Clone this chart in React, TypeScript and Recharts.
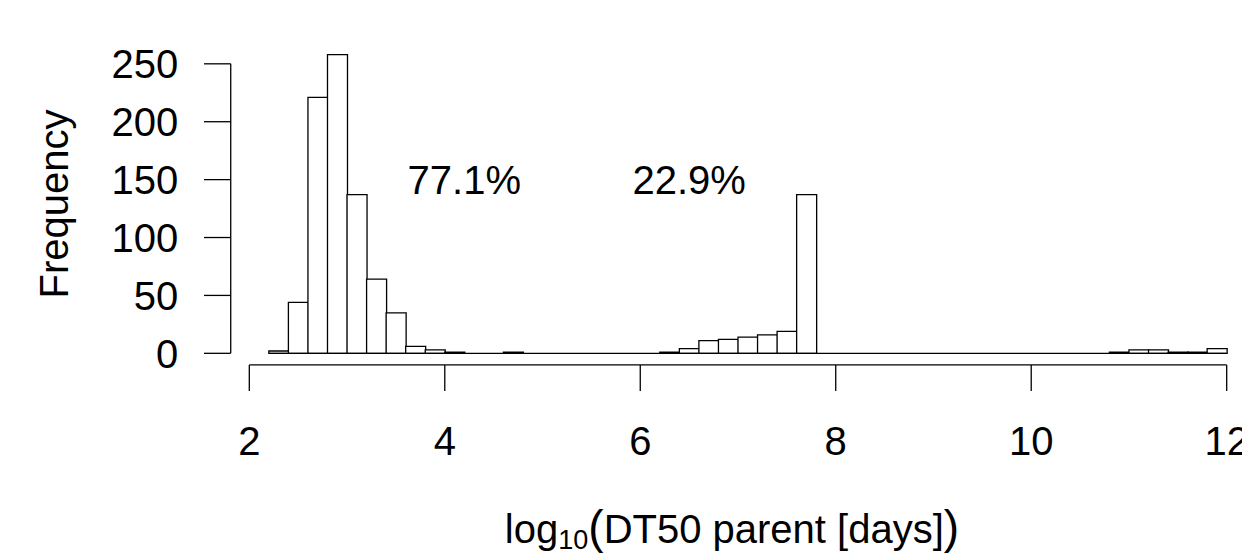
import {
  ComposedChart,
  Bar,
  XAxis,
  YAxis,
  ReferenceLine,
  ReferenceDot,
} from "recharts";

const FONT = '"Liberation Sans", Arial, Helvetica, sans-serif';

// histogram bins (left edge, width 0.2)
const binStarts = [
  "2.2", "2.4", "2.6", "2.8", "3.0", "3.2", "3.4", "3.6", "3.8", "4.0",
  "4.2", "4.4", "4.6", "4.8", "5.0", "5.2", "5.4", "5.6", "5.8", "6.0",
  "6.2", "6.4", "6.6", "6.8", "7.0", "7.2", "7.4", "7.6", "7.8", "8.0",
  "8.2", "8.4", "8.6", "8.8", "9.0", "9.2", "9.4", "9.6", "9.8", "10.0",
  "10.2", "10.4", "10.6", "10.8", "11.0", "11.2", "11.4", "11.6", "11.8",
];

const counts = [
  2, 44, 221, 258, 137, 64, 35, 6, 3, 1,
  0, 0, 1, 0, 0, 0, 0, 0, 0, 0,
  1, 4, 11, 12, 14, 16, 19, 137, 0, 0,
  0, 0, 0, 0, 0, 0, 0, 0, 0, 0,
  0, 0, 0, 1, 3, 3, 1, 1, 4,
];

const xTicks = [2, 4, 6, 8, 10, 12];
const yTicks = [0, 50, 100, 150, 200, 250];

const shareLabels = [
  { x: 4.2, y: 150, text: "77.1%" },
  { x: 6.5, y: 150, text: "22.9%" },
];

const histLow = 2.2;
const histHigh = 12;
const yAxisLineX = 1.81;

const data = binStarts.map((bin, i) => ({
  bin,
  start: parseFloat(bin),
  count: counts[i],
}));

function YTick({ x, y, payload }: any) {
  return (
    <g>
      <line x1={x + 25.7} x2={x + 52.4} y1={y} y2={y} stroke="#000" strokeWidth={1.3} />
      <text
        x={x}
        y={y}
        dy="0.355em"
        textAnchor="end"
        fontSize={40}
        fontFamily={FONT}
        fill="#000"
      >
        {payload.value}
      </text>
    </g>
  );
}

function XTitle() {
  return (
    <text x={732} y={543} textAnchor="middle" fontSize={40} fontFamily={FONT} fill="#000">
      <tspan>log</tspan>
      <tspan fontSize={27} dy={6}>10</tspan>
      <tspan fontSize={46} dy={-6}>(</tspan>
      <tspan>DT50 parent [days]</tspan>
      <tspan fontSize={46}>)</tspan>
    </text>
  );
}

function YTitle() {
  return (
    <text
      x={54}
      y={204}
      dy="0.355em"
      transform="rotate(-90 54 204)"
      textAnchor="middle"
      fontSize={40}
      fontFamily={FONT}
      fill="#000"
    >
      Frequency
    </text>
  );
}

export default function App() {
  return (
    <div
      style={{
        position: "absolute",
        left: 0,
        top: 0,
        width: 1242,
        height: 559,
        background: "#fff",
        fontFamily: FONT,
      }}
    >
      <ComposedChart
        width={1242}
        height={559}
        data={data}
        barCategoryGap={0}
        barGap={0}
        margin={{ top: 40.66, right: 15.3, bottom: 44.1, left: 49.3 }}
      >
        <XAxis
          xAxisId="bins"
          dataKey="bin"
          type="category"
          hide
          height={0}
          padding={{ left: 19.548, right: 0 }}
        />
        <XAxis
          xAxisId="num"
          dataKey="start"
          type="number"
          domain={[2, 12]}
          allowDataOverflow
          ticks={xTicks}
          interval={0}
          height={150}
          tickSize={26}
          tickMargin={36}
          axisLine={{ stroke: "#000", strokeWidth: 1.3 }}
          tickLine={{ stroke: "#000", strokeWidth: 1.3 }}
          tick={{ fontSize: 40, fill: "#000", fontFamily: FONT }}
          label={<XTitle />}
        />
        <YAxis
          type="number"
          domain={[-10, 270]}
          ticks={yTicks}
          interval={0}
          width={200}
          tickSize={0}
          tickMargin={71}
          axisLine={false}
          tickLine={false}
          tick={<YTick />}
          label={<YTitle />}
        />
        <ReferenceLine
          xAxisId="num"
          segment={[
            { x: yAxisLineX, y: 0 },
            { x: yAxisLineX, y: 250 },
          ]}
          stroke="#000"
          strokeWidth={1.3}
          ifOverflow="visible"
        />
        <ReferenceLine
          xAxisId="num"
          segment={[
            { x: histLow, y: 0 },
            { x: histHigh, y: 0 },
          ]}
          stroke="#000"
          strokeWidth={1.3}
          ifOverflow="visible"
        />
        <Bar
          xAxisId="bins"
          dataKey="count"
          fill="#fff"
          stroke="#000"
          strokeWidth={1.3}
          isAnimationActive={false}
        />
        {shareLabels.map((s) => (
          <ReferenceDot
            key={s.text}
            xAxisId="num"
            x={s.x}
            y={s.y}
            r={0}
            fill="none"
            stroke="none"
            ifOverflow="visible"
            label={{
              value: s.text,
              position: "center",
              fontSize: 40,
              fill: "#000",
              fontFamily: FONT,
            }}
          />
        ))}
      </ComposedChart>
    </div>
  );
}
